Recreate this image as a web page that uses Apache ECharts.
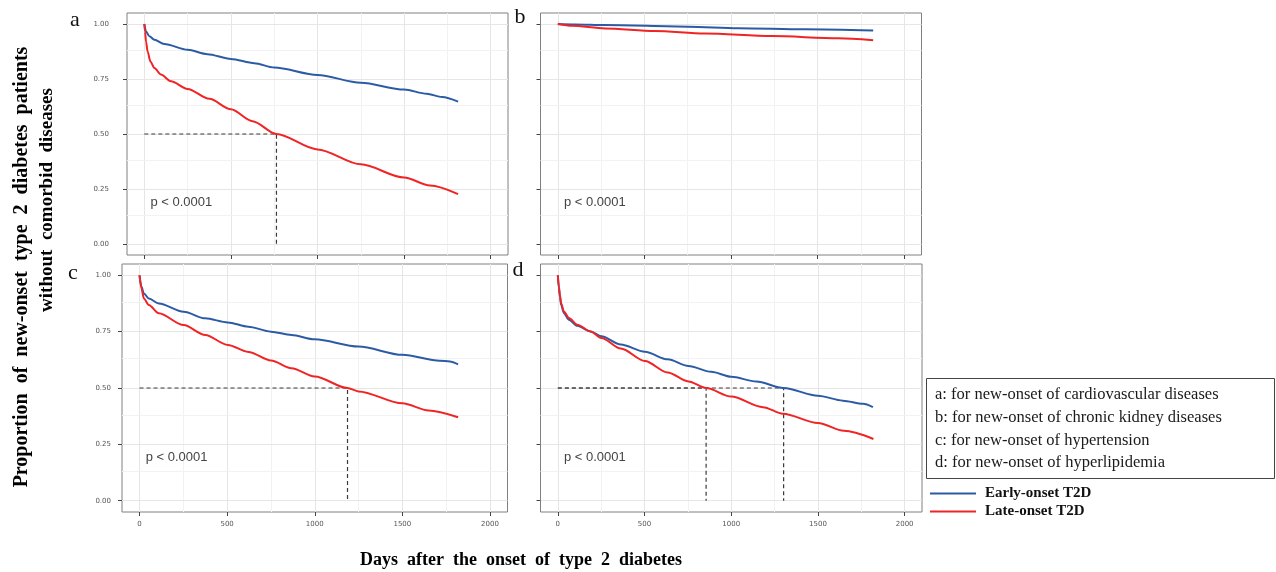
<!DOCTYPE html>
<html>
<head>
<meta charset="utf-8">
<script src="https://cdn.jsdelivr.net/npm/echarts@6/dist/echarts.min.js"></script>
<style>
  html, body { margin: 0; padding: 0; background: #fff; }
  #chart { width: 1276px; height: 572px; }
</style>
</head>
<body>
<div id="chart"></div>
<script>
// [days, proportion without the comorbidity]
var cvdEarly = [[0,1],[10,0.966],[29,0.944],[58,0.928],[115,0.909],[250,0.883],[365,0.863],[500,0.841],[635,0.822],[750,0.802],[1000,0.768],[1250,0.733],[1500,0.702],[1630,0.683],[1720,0.668],[1812,0.647]];
var cvdLate = [[0,1],[4,0.965],[10,0.92],[19,0.875],[35,0.83],[58,0.8],[96,0.77],[154,0.74],[250,0.705],[375,0.66],[500,0.612],[625,0.558],[763,0.5],[1000,0.43],[1250,0.362],[1500,0.302],[1650,0.266],[1812,0.227]];
var ckdEarly = [[0,1],[100,0.998],[273,0.995],[754,0.988],[1042,0.981],[1427,0.976],[1821,0.97]];
var ckdLate = [[0,1],[81,0.992],[273,0.98],[561,0.968],[850,0.957],[1235,0.945],[1619,0.935],[1821,0.926]];
var htnEarly = [[0,1],[11,0.949],[25,0.919],[53,0.897],[110,0.875],[252,0.838],[375,0.809],[504,0.791],[621,0.772],[750,0.75],[867,0.735],[1000,0.716],[1250,0.684],[1500,0.647],[1714,0.621],[1771,0.618],[1818,0.605]];
var htnLate = [[0,1],[11,0.941],[25,0.897],[53,0.868],[110,0.831],[252,0.779],[375,0.735],[504,0.691],[621,0.66],[750,0.622],[867,0.588],[1000,0.551],[1187,0.5],[1250,0.485],[1500,0.432],[1650,0.4],[1818,0.37]];
var hldEarly = [[0,1],[6,0.942],[12,0.905],[19,0.868],[35,0.832],[64,0.803],[112,0.776],[189,0.751],[251,0.73],[363,0.693],[502,0.661],[633,0.627],[753,0.598],[884,0.572],[1000,0.55],[1144,0.529],[1302,0.5],[1500,0.466],[1644,0.444],[1760,0.43],[1817,0.415]];
var hldLate = [[0,1],[6,0.949],[12,0.912],[19,0.876],[35,0.839],[64,0.81],[112,0.781],[189,0.751],[251,0.722],[363,0.675],[502,0.62],[633,0.569],[753,0.529],[855,0.5],[1000,0.462],[1183,0.415],[1298,0.386],[1500,0.345],[1650,0.31],[1820,0.274]];

// median survival times (days) marked with dashed guides
var cvdMedians = [763];
var ckdMedians = [];
var htnMedians = [1187];
var hldMedians = [855, 1302];

var dayTicks = [0, 500, 1000, 1500, 2000];
var dayMinor = [250, 750, 1250, 1750];
var propTicks = [0, 0.25, 0.5, 0.75, 1];
var propMinor = [0.125, 0.375, 0.625, 0.875];

var panelNotes = [
  'a: for new-onset of cardiovascular diseases',
  'b: for new-onset of chronic kidney diseases',
  'c: for new-onset of hypertension',
  'd: for new-onset of hyperlipidemia'
];
var pValue = 'p < 0.0001';

var EARLY = 'Early-onset T2D', LATE = 'Late-onset T2D';
var BLUE = '#2c5ba6', RED = '#f02424';

var panels = [
  { letter: 'a', early: cvdEarly, late: cvdLate, medians: cvdMedians, box: [127, 13, 381, 242], yLab: true, xLab: false, yMargin: 18, letterPos: [75, 20] },
  { letter: 'b', early: ckdEarly, late: ckdLate, medians: ckdMedians, box: [540.5, 13, 381, 242], yLab: false, xLab: false, yMargin: 10, letterPos: [520, 17] },
  { letter: 'c', early: htnEarly, late: htnLate, medians: htnMedians, box: [122, 264, 385.5, 248], yLab: true, xLab: true, yMargin: 11, letterPos: [73, 273] },
  { letter: 'd', early: hldEarly, late: hldLate, medians: hldMedians, box: [540.5, 264, 381.5, 248], yLab: false, xLab: true, yMargin: 10, letterPos: [518, 270] }
];

var tickFont = { fontFamily: 'DejaVu Sans', fontSize: 7, color: '#555' };

var grids = [], xAxes = [], yAxes = [], series = [];
panels.forEach(function (p, i) {
  grids.push({
    left: p.box[0], top: p.box[1], width: p.box[2], height: p.box[3],
    show: true, borderColor: '#808080', borderWidth: 1, backgroundColor: '#fff',
    containLabel: false, outerBoundsMode: 'none'
  });
  xAxes.push({
    type: 'value', gridIndex: i, min: -100, max: 2100, position: 'bottom',
    axisLine: { show: false, onZero: false },
    axisTick: { show: true, length: 4, customValues: dayTicks, lineStyle: { color: '#444' } },
    axisLabel: Object.assign({ show: p.xLab, margin: 9, customValues: dayTicks,
      formatter: function (v) { return String(v); } }, tickFont),
    splitLine: { show: false }
  });
  yAxes.push({
    type: 'value', gridIndex: i, min: -0.05, max: 1.05, position: 'left',
    axisLine: { show: false, onZero: false },
    axisTick: { show: true, length: 4, customValues: propTicks, lineStyle: { color: '#444' } },
    axisLabel: Object.assign({ show: p.yLab, margin: p.yMargin, customValues: propTicks,
      formatter: function (v) { return v.toFixed(2); } }, tickFont),
    splitLine: { show: false }
  });

  // background grid (major + minor), ggplot style
  var gl = [];
  dayTicks.forEach(function (d) { gl.push({ xAxis: d, lineStyle: { color: '#e6e6e6' } }); });
  dayMinor.forEach(function (d) { gl.push({ xAxis: d, lineStyle: { color: '#f2f2f2' } }); });
  propTicks.forEach(function (v) { gl.push({ yAxis: v, lineStyle: { color: '#e6e6e6' } }); });
  propMinor.forEach(function (v) { gl.push({ yAxis: v, lineStyle: { color: '#f2f2f2' } }); });
  series.push({
    type: 'line', xAxisIndex: i, yAxisIndex: i, data: [], silent: true, z: 0,
    markLine: { silent: true, z: 0, symbol: ['none', 'none'], label: { show: false },
      lineStyle: { type: 'solid', width: 1 }, animation: false, data: gl }
  });

  p.medians.forEach(function (m) {
    series.push({
      type: 'line', xAxisIndex: i, yAxisIndex: i, silent: true, z: 2,
      data: [[0, 0.5], [m, 0.5], [m, 0]], symbol: 'none',
      lineStyle: { color: '#3a3a3a', width: 1.2, type: [4, 3] }
    });
  });

  series.push({
    name: EARLY, type: 'line', xAxisIndex: i, yAxisIndex: i, data: p.early, z: 3,
    symbol: 'none', smooth: 0.3, smoothMonotone: 'x', color: BLUE,
    lineStyle: { color: BLUE, width: 2 }
  });
  series.push({
    name: LATE, type: 'line', xAxisIndex: i, yAxisIndex: i, data: p.late, z: 4,
    symbol: 'none', smooth: 0.3, smoothMonotone: 'x', color: RED,
    lineStyle: { color: RED, width: 2 }
  });
});

var chart = echarts.init(document.getElementById('chart'), null, { renderer: 'canvas' });
chart.setOption({
  animation: false,
  backgroundColor: '#fff',
  grid: grids,
  xAxis: xAxes,
  yAxis: yAxes,
  series: series,
  legend: {
    data: [EARLY, LATE], orient: 'vertical', left: 925, top: 481,
    icon: 'rect', itemWidth: 46, itemHeight: 2, itemGap: 3, selectedMode: false,
    textStyle: { fontFamily: 'Liberation Serif', fontWeight: 'bold', fontSize: 15, color: '#111', padding: [0, 0, 0, 4] }
  }
});

// text layer: panel letters, p values, axis titles, notes box
var graphics = [];
panels.forEach(function (p, i) {
  graphics.push({ type: 'text', x: p.letterPos[0], y: p.letterPos[1],
    style: { text: p.letter, font: '22px "Liberation Serif"', fill: '#111', align: 'center', verticalAlign: 'middle' } });
  var pt = chart.convertToPixel({ gridIndex: i }, [35, 0.19]);
  graphics.push({ type: 'text', x: pt[0], y: pt[1],
    style: { text: pValue, font: '13px "Liberation Sans"', fill: '#444', align: 'left', verticalAlign: 'middle' } });
});
graphics.push({ type: 'text', x: 22, y: 267, rotation: Math.PI / 2,
  style: { text: 'Proportion  of  new-onset  type  2  diabetes  patients', font: 'bold 20px "Liberation Serif"', fill: '#000', align: 'center', verticalAlign: 'middle' } });
graphics.push({ type: 'text', x: 47, y: 200, rotation: Math.PI / 2,
  style: { text: 'without  comorbid  diseases', font: 'bold 19px "Liberation Serif"', fill: '#000', align: 'center', verticalAlign: 'middle' } });
graphics.push({ type: 'text', x: 521, y: 560,
  style: { text: 'Days  after  the  onset  of  type  2  diabetes', font: 'bold 18px "Liberation Serif"', fill: '#000', align: 'center', verticalAlign: 'middle' } });
graphics.push({ type: 'rect', shape: { x: 926.5, y: 378.5, width: 348, height: 100 },
  style: { fill: 'none', stroke: '#444', lineWidth: 1 } });
panelNotes.forEach(function (t, k) {
  graphics.push({ type: 'text', x: 935, y: 395 + k * 22.7,
    style: { text: t, font: '16.5px "Liberation Serif"', fill: '#1a1a1a', align: 'left', verticalAlign: 'middle' } });
});
chart.setOption({ graphic: graphics });
</script>
</body>
</html>
